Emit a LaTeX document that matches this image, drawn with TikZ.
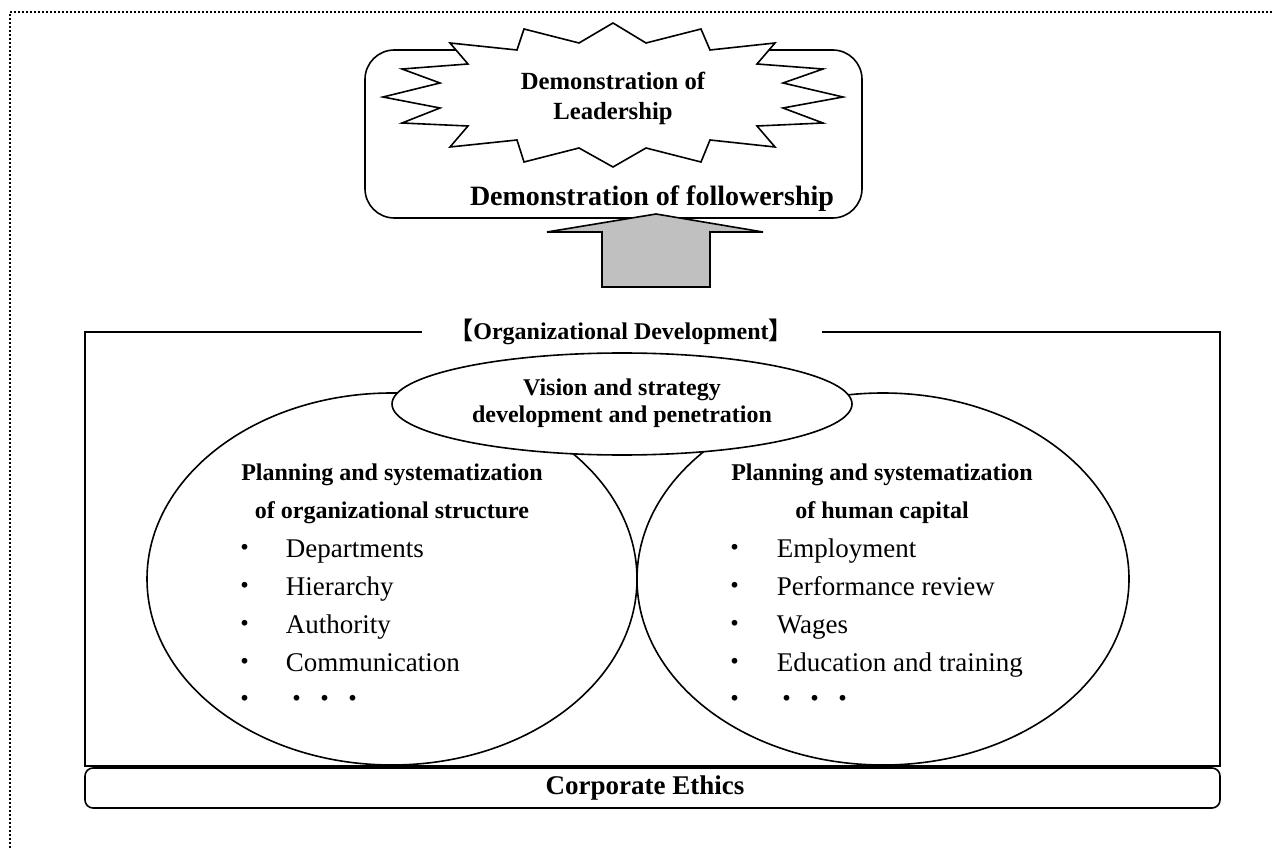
\documentclass[tikz,border=0pt]{standalone}
\usepackage{fontspec}
\setmainfont{Liberation Serif}
\newfontfamily\cjk{Noto Sans CJK JP}
\usetikzlibrary{shapes.geometric}
\definecolor{arrowgray}{RGB}{192,192,192}
\begin{document}
\begin{tikzpicture}[x=0.75pt,y=-0.75pt,line width=1.2pt,
  dotborder/.style={line width=1.5pt,dash pattern=on 1.5pt off 1.5pt},
  head/.style={font=\bfseries\fontsize{18}{20}\selectfont,anchor=base,inner sep=0pt},
  item/.style={font=\fontsize{20.25}{22}\selectfont,anchor=base west,inner sep=0pt},
  bul/.style={font=\cjk\fontsize{20.25}{22}\selectfont,anchor=base,inner sep=0pt},
  bigell/.style={draw,ellipse,inner sep=0pt,minimum height=279pt}]
\useasboundingbox (0,0) rectangle (1274,848);
% dotted page border (top and left edges)
\coordinate (bl) at (10,848);
\coordinate (tl) at (10,12);
\coordinate (tr) at (1274,12);
\draw[dotborder] (bl) -- (tl) -- (tr);

% leadership box
\node[draw,rounded corners=22pt,minimum width=372.75pt,minimum height=126pt,inner sep=0pt] (leadbox) at (613.5,134) {};
\draw[fill=white] (613,23) -- (646,43) -- (701,29) -- (710,50) -- (775,43) -- (757,64) -- (823,69) -- (783,83) -- (843,97) -- (783,108) -- (823,123) -- (757,126) -- (775,147) -- (710,140) -- (701,162) -- (646,148) -- (613,167) -- (579,148) -- (524,162) -- (517,140) -- (450,147) -- (468,126) -- (402,123) -- (440,108) -- (383,97) -- (440,83) -- (402,69) -- (468,64) -- (450,43) -- (517,50) -- (524,29) -- (579,43) -- cycle;
\node[font=\bfseries\fontsize{18.5}{22.5}\selectfont,align=center] (lead) at (613,98) {Demonstration of\\Leadership};
\node[font=\bfseries\fontsize{21}{23}\selectfont,anchor=base,inner sep=0pt] (follow) at (652,206) {Demonstration of followership};

% up arrow
\draw[fill=arrowgray] (602,287) -- (602,232) -- (547,232) -- (656,214) -- (763,232) -- (710,232) -- (710,287) -- cycle;

% organizational development frame
\coordinate (fa) at (422,332);
\coordinate (fb) at (85,332);
\coordinate (fc) at (85,766);
\coordinate (fd) at (1220,766);
\coordinate (fe) at (1220,332);
\coordinate (ff) at (822,332);
\draw (fa) -- (fb) -- (fc) -- (fd) -- (fe) -- (ff);
\node[font=\bfseries\fontsize{18}{20}\selectfont,inner sep=0pt] (odtitle) at (621,332) {{\cjk 【}Organizational Development{\cjk 】}};

% ellipses
\node[bigell,minimum width=367.5pt] (orgell) at (392,579) {};
\node[bigell,minimum width=369pt] (humell) at (883,579) {};
\node[draw,ellipse,fill=white,inner sep=0pt,minimum width=345pt,minimum height=76.5pt] (vision) at (622,404) {};
\node[head] (v1) at (622,396) {Vision and strategy};
\node[head] (v2) at (622,422) {development and penetration};

% left ellipse text
\node[head] (l1) at (392,480) {Planning and systematization};
\node[head] (l2) at (392,518) {of organizational structure};
\node[bul] (lb1) at (245,557) {・};
\node[item] (li1) at (285,557) {Departments};
\node[bul] (lb2) at (245,595) {・};
\node[item] (li2) at (285,595) {Hierarchy};
\node[bul] (lb3) at (245,633) {・};
\node[item] (li3) at (285,633) {Authority};
\node[bul] (lb4) at (245,671) {・};
\node[item] (li4) at (285,671) {Communication};
\node[bul] (lb5) at (245,708) {・};
\node[bul] (ld1) at (297,708) {・};
\node[bul] (ld2) at (325,708) {・};
\node[bul] (ld3) at (353,708) {・};

% right ellipse text
\node[head] (r1) at (882,480) {Planning and systematization};
\node[head] (r2) at (882,518) {of human capital};
\node[bul] (rb1) at (735,557) {・};
\node[item] (ri1) at (776,557) {Employment};
\node[bul] (rb2) at (735,595) {・};
\node[item] (ri2) at (776,595) {Performance review};
\node[bul] (rb3) at (735,633) {・};
\node[item] (ri3) at (776,633) {Wages};
\node[bul] (rb4) at (735,671) {・};
\node[item] (ri4) at (776,671) {Education and training};
\node[bul] (rb5) at (735,708) {・};
\node[bul] (rd1) at (787,708) {・};
\node[bul] (rd2) at (815,708) {・};
\node[bul] (rd3) at (843,708) {・};

% corporate ethics
\node[draw,rounded corners=6pt,minimum width=851.25pt,minimum height=30pt,inner sep=0pt] (ethics) at (652.5,788) {};
\node[font=\bfseries\fontsize{20.25}{22}\selectfont] (ethicstext) at (645,788) {Corporate Ethics};
\end{tikzpicture}
\end{document}
